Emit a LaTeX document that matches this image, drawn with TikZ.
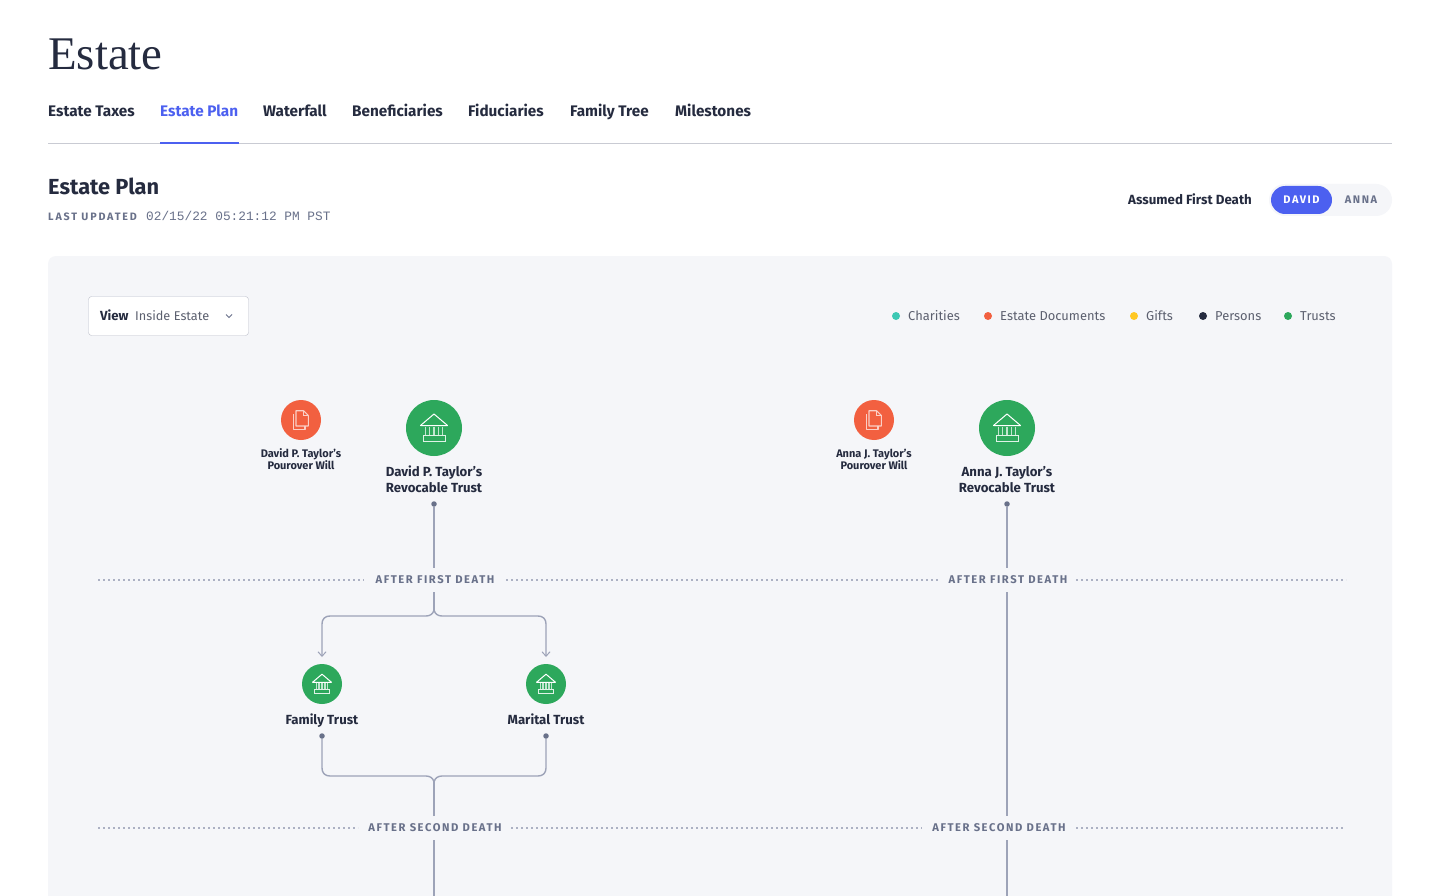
\documentclass[tikz,border=0pt]{standalone}
\usepackage{fontspec}
\setmainfont{Fira Sans}
\newfontfamily\titlefont{Liberation Serif}
\newfontfamily\capsfont[LetterSpace=14,BoldFont={* Bold}]{Fira Sans}
\newfontfamily\stampfont[LetterSpace=17,BoldFont={* Bold}]{Fira Sans}
\setmonofont{Liberation Mono}
\usetikzlibrary{arrows.meta}
\definecolor{ink}{HTML}{252B3F}
\definecolor{slate}{HTML}{69718A}
\definecolor{wire}{HTML}{9DA3B8}
\definecolor{panel}{HTML}{F5F6F9}
\definecolor{rule}{HTML}{C9CBD3}
\definecolor{accent}{HTML}{4C60F0}
\definecolor{docred}{HTML}{F26040}
\definecolor{trustgreen}{HTML}{2DA85C}
\definecolor{charteal}{HTML}{3CC8B4}
\definecolor{giftyellow}{HTML}{FFC823}
\newcommand{\fs}[1]{\fontsize{#1}{#1}\selectfont}
\tikzset{
  tab/.style={anchor=base west, inner sep=0, text=ink, font=\fs{15.3}\bfseries},
  keydot/.style={circle, inner sep=0, minimum size=8pt},
  keytext/.style={anchor=base west, inner sep=0, text=ink!75, font=\fs{12.9}},
  divider/.style={inner sep=0, minimum height=24pt, text=slate, font=\capsfont\fs{11.2}\bfseries},
  dots/.style={draw=wire!85, line width=2pt, dash pattern=on 2pt off 3pt},
  port/.style={circle, fill=slate, inner sep=0, minimum size=5.5pt},
  bigtrust/.style={circle, fill=trustgreen, inner sep=0, minimum size=56pt},
  smalltrust/.style={circle, fill=trustgreen, inner sep=0, minimum size=40pt},
  docnode/.style={circle, fill=docred, inner sep=0, minimum size=40pt},
  biglabel/.style={anchor=base, align=center, inner sep=0, text=ink, font=\fontsize{13.2}{16}\selectfont\bfseries},
  smalllabel/.style={anchor=base, align=center, inner sep=0, text=ink, font=\fontsize{11}{12}\selectfont\bfseries},
  wireline/.style={draw=wire, line width=1.4pt},
  pics/bank/.style={code={
    \draw[white, line width=1pt, line join=round] (-13.5,-2.5) -- (0,-14) -- (13.5,-2.5) -- cycle;
    \draw[white!85!trustgreen, line width=1pt] (-11,7.5) rectangle (11,13);
    \foreach \bx in {-8.4,-4.2,0,4.2,8.4} \draw[white!70!trustgreen, line width=1.2pt] (\bx,-1.5) -- (\bx,7);
  }},
  pics/sheet/.style={code={
    \draw[white!70!docred, line width=1.1pt, line join=round] (-7.7,-6) -- (-7.7,9.3) -- (4,9.3) -- (4,6);
    \draw[white!70!docred, line width=1.1pt, line join=round] (-5,-9.3) -- (2.5,-9.3) -- (7.3,-4.5) -- (7.3,6) -- (-5,6) -- cycle;
    \draw[white!70!docred, line width=1pt] (2.5,-9.3) -- (2.5,-4.5) -- (7.3,-4.5);
  }}
}
\begin{document}
\begin{tikzpicture}[x=1pt, y=-1pt]
  \useasboundingbox[fill=white] (0,0) rectangle (1440,896);

  % header
  \node (title) [anchor=base west, inner sep=0, text=ink, font=\titlefont\fs{46.8}] at (48,70) {Estate};
  \node (t0) [tab] at (48,117) {Estate Taxes};
  \node (t1) [tab, text=accent] at (160,117) {Estate Plan};
  \node (t2) [tab] at (263,117) {Waterfall};
  \node (t3) [tab] at (352,117) {Beneficiaries};
  \node (t4) [tab] at (468,117) {Fiduciaries};
  \node (t5) [tab] at (570,117) {Family Tree};
  \node (t6) [tab] at (675,117) {Milestones};
  \fill[rule] (48,143) rectangle (1392,144);
  \fill[accent] (160,142.5) rectangle (239,144);

  \node (plan) [anchor=base west, inner sep=0, text=ink, font=\fs{21.8}\bfseries] at (48,195) {Estate Plan};
  \node (upd) [anchor=base west, inner sep=0, text=slate, font=\stampfont\fs{10.7}\bfseries] at (48,221) {LAST UPDATED};
  \node (stamp) [anchor=base west, inner sep=0, text=slate, font=\ttfamily\fs{12.8}] at (146,221) {02/15/22 05:21:12 PM PST};

  % switch
  \node (assumed) [anchor=base east, inner sep=0, text=ink, font=\fs{13.3}\bfseries] at (1252,205) {Assumed First Death};
  \fill[panel, rounded corners=16pt] (1269,184) rectangle (1392,216);
  \fill[accent, rounded corners=14pt] (1271,186) rectangle (1332,214);
  \node (david) [inner sep=0, text=white, font=\capsfont\fs{11}\bfseries] at (1301.5,199.5) {DAVID};
  \node (anna) [inner sep=0, text=slate, font=\capsfont\fs{11}\bfseries] at (1361,199.5) {ANNA};

  % panel
  \fill[panel, rounded corners=8pt] (48,256) -- (1392,256) -- (1392,906) -- (48,906) -- cycle;
  \draw[rule!70!wire, fill=white, rounded corners=3pt] (88.5,296.5) rectangle (248.5,335.5);
  \node (viewa) [anchor=base west, inner sep=0, text=ink, font=\fs{13.2}\bfseries] at (100,320.5) {View};
  \node (viewb) [anchor=base west, inner sep=0, text=ink!75, font=\fs{12.7}] at (135,320.5) {Inside Estate};
  \draw[slate, line width=0.8pt] (226,314.5) -- (229,317.5) -- (232,314.5);

  % legend
  \node (k0) [keydot, fill=charteal] at (896,316) {};
  \node (k0t) [keytext] at (908,320.5) {Charities};
  \node (k1) [keydot, fill=docred] at (988,316) {};
  \node (k1t) [keytext] at (1000,320.5) {Estate Documents};
  \node (k2) [keydot, fill=giftyellow] at (1134,316) {};
  \node (k2t) [keytext] at (1146,320.5) {Gifts};
  \node (k3) [keydot, fill=ink] at (1203,316) {};
  \node (k3t) [keytext] at (1215,320.5) {Persons};
  \node (k4) [keydot, fill=trustgreen] at (1288,316) {};
  \node (k4t) [keytext] at (1300,320.5) {Trusts};

  % dividers
  \node (d1) [divider] at (435,579.5) {AFTER FIRST DEATH};
  \node (a1) [divider] at (1008,579.5) {AFTER FIRST DEATH};
  \node (d2) [divider] at (435,827.5) {AFTER SECOND DEATH};
  \node (a2) [divider] at (999,827.5) {AFTER SECOND DEATH};
  \draw[dots] (98,579.5) -- (364,579.5);
  \draw[dots] (506,579.5) -- (938,579.5);
  \draw[dots] (1076,579.5) -- (1346,579.5);
  \draw[dots] (98,827.5) -- (358,827.5);
  \draw[dots] (511,827.5) -- (922,827.5);
  \draw[dots] (1076,827.5) -- (1344,827.5);

  % David
  \node (davidwill) [docnode] at (301,420) {};
  \pic at (301,420) {sheet};
  \node (davidwilltext) [smalllabel] at (301,469) {David P. Taylor’s\\Pourover Will};
  \node (davidtrust) [bigtrust] at (434,428) {};
  \pic at (434,428) {bank};
  \node (davidtrusttext) [biglabel] at (434,492) {David P. Taylor’s\\Revocable Trust};
  \node (davidport) [port] at (434,504) {};

  % Anna
  \node (annawill) [docnode] at (874,420) {};
  \pic at (874,420) {sheet};
  \node (annawilltext) [smalllabel] at (874,469) {Anna J. Taylor’s\\Pourover Will};
  \node (annatrust) [bigtrust] at (1007,428) {};
  \pic at (1007,428) {bank};
  \node (annatrusttext) [biglabel] at (1007,492) {Anna J. Taylor’s\\Revocable Trust};
  \node (annaport) [port] at (1007,504) {};

  % second tier
  \node (family) [smalltrust] at (322,684) {};
  \pic[scale=0.7] at (322,684) {bank};
  \node (familytext) [biglabel] at (322,724) {Family Trust};
  \node (familyport) [port] at (322,736) {};
  \node (marital) [smalltrust] at (546,684) {};
  \pic[scale=0.7] at (546,684) {bank};
  \node (maritaltext) [biglabel] at (546,724) {Marital Trust};
  \node (maritalport) [port] at (546,736) {};

  % wires
  \coordinate (a1in) at (1007,568);
  \coordinate (a1out) at (1007,592);
  \coordinate (a2in) at (1007,816);
  \coordinate (a2out) at (1007,840);
  \coordinate (d1out) at (434,592);
  \coordinate (d2in) at (434,816);
  \coordinate (d2out) at (434,840);
  \coordinate (d1in) at (434,568);
  \coordinate (split) at (434,610);
  \coordinate (merge) at (434,782);
  \coordinate (familyin) at (322,657);
  \coordinate (maritalin) at (546,657);
  \coordinate (leftend) at (434,896);
  \coordinate (rightend) at (1007,896);

  \path[wireline]
  (davidport) edge (d1in)
  (d1out) edge (split)
  (d2in) edge (merge)
  (d2out) edge (leftend)
  (annaport) edge (a1in)
  (a1out) edge (a2in)
  (a2out) edge (rightend)
  ;
  \draw[wireline, -{Straight Barb[length=4.5pt,width=8pt,line width=1pt]}]
    (split) .. controls (433,614) and (430,616) .. (426,616) -- (330,616)
    .. controls (325,616) and (322,619) .. (322,624) -- (familyin);
  \draw[wireline, -{Straight Barb[length=4.5pt,width=8pt,line width=1pt]}]
    (split) .. controls (435,614) and (438,616) .. (442,616) -- (538,616)
    .. controls (543,616) and (546,619) .. (546,624) -- (maritalin);
  \draw[wireline]
    (familyport) -- (322,768) .. controls (322,773) and (325,776) .. (330,776) -- (426,776)
    .. controls (430,776) and (433,778) .. (merge);
  \draw[wireline]
    (maritalport) -- (546,768) .. controls (546,773) and (543,776) .. (538,776) -- (442,776)
    .. controls (438,776) and (435,778) .. (merge);
\end{tikzpicture}
\end{document}
